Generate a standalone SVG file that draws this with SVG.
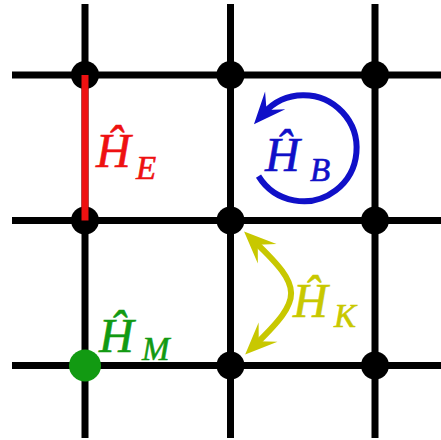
<svg xmlns="http://www.w3.org/2000/svg" width="441" height="440" viewBox="0 0 441 440">
<style>
.grid{stroke:#000;stroke-width:7;fill:none}
.dot{fill:#000}
.lbl{font-family:"Liberation Serif","Times New Roman",serif;font-style:italic;font-size:48px;stroke-width:0.6px}
.sub{font-size:33px}
</style>
<defs>
<marker id="ahB" markerUnits="userSpaceOnUse" markerWidth="40" markerHeight="40" viewBox="-20 -20 40 40" refX="0" refY="0" orient="auto" overflow="visible">
<path d="M15,0 L-17,-13.5 L-4,0 L-17,13.5 Z" fill="#1010c8"/>
</marker>
<marker id="ahK" markerUnits="userSpaceOnUse" markerWidth="40" markerHeight="40" viewBox="-20 -20 40 40" refX="0" refY="0" orient="auto-start-reverse" overflow="visible">
<path d="M15,0 L-17,-13.5 L-4,0 L-17,13.5 Z" fill="#c8c800"/>
</marker>
</defs>
<rect width="441" height="440" fill="#fff"/>
<g id="connectors">
<line class="grid" x1="85" y1="4" x2="85" y2="438"/>
<line class="grid" x1="230.5" y1="4" x2="230.5" y2="438"/>
<line class="grid" x1="375" y1="4" x2="375" y2="438"/>
<line class="grid" x1="12" y1="75" x2="441" y2="75"/>
<line class="grid" x1="12" y1="220.5" x2="441" y2="220.5"/>
<line class="grid" x1="12" y1="365.5" x2="441" y2="365.5"/>
</g>
<g id="n11"><circle class="dot" cx="85" cy="75" r="14"/></g>
<g id="n12"><circle class="dot" cx="230.5" cy="75" r="14"/></g>
<g id="n13"><circle class="dot" cx="375" cy="75" r="14"/></g>
<g id="n21"><circle class="dot" cx="85" cy="220.5" r="14"/></g>
<g id="n22"><circle class="dot" cx="230.5" cy="220.5" r="14"/></g>
<g id="n23"><circle class="dot" cx="375" cy="220.5" r="14"/></g>
<g id="n31"><circle cx="85" cy="365.5" r="16" fill="#129a12"/></g>
<g id="n32"><circle class="dot" cx="230.5" cy="365.5" r="14"/></g>
<g id="n33"><circle class="dot" cx="375" cy="365.5" r="14"/></g>
<g id="HE">
<line x1="85" y1="75" x2="85" y2="220.5" stroke="#ee1111" stroke-width="7"/>
<text class="lbl" x="96" y="167" fill="#ee1111" stroke="#ee1111">Ĥ<tspan class="sub" x="136" y="179">E</tspan></text>
</g>
<g id="HB">
<path d="M258.5,176.1 A53,53 0 1 0 263.9,113.1" stroke="#1010c8" stroke-width="6" fill="none" marker-end="url(#ahB)"/>
<text class="lbl" x="265" y="171" fill="#1010c8" stroke="#1010c8">Ĥ<tspan class="sub" x="310" y="181">B</tspan></text>
</g>
<g id="HK">
<path d="M254.9,241.9 C303,288 303,298 255.9,344.1" stroke="#c8c800" stroke-width="6" fill="none" marker-start="url(#ahK)" marker-end="url(#ahK)"/>
<text class="lbl" x="293" y="317" fill="#c8c800" stroke="#c8c800">Ĥ<tspan class="sub" x="334" y="327">K</tspan></text>
</g>
<g id="HM">
<text class="lbl" x="99" y="352" fill="#129a12" stroke="#129a12">Ĥ<tspan class="sub" x="142" y="360">M</tspan></text>
</g>
</svg>
